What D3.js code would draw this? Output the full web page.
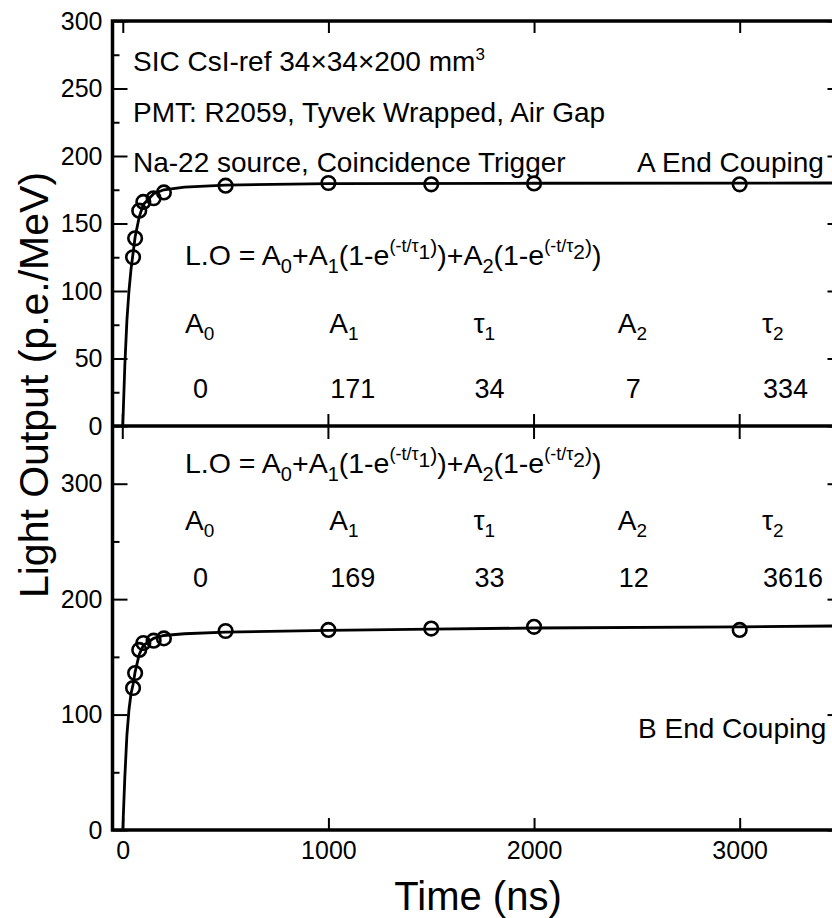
<!DOCTYPE html>
<html><head><meta charset="utf-8">
<script src="https://cdn.jsdelivr.net/npm/d3@7"></script>
<style>
body{margin:0;background:#fff}
svg{display:block}
text{font-family:"Liberation Sans",Arial,Helvetica,sans-serif;fill:#000}
</style>
</head><body>
<svg id="c" width="832" height="918"></svg>
<script>
// ---------------- data ----------------
const timeA  = [50, 60, 80, 100, 150, 200, 500, 1000, 1500, 2000, 3000];
const lightA = [125, 139, 159.5, 166, 168.7, 173, 178, 180, 179, 179.7, 179];
const timeB  = [50, 60, 80, 100, 150, 200, 500, 1000, 1500, 2000, 3000];
const lightB = [123, 136, 156, 162, 164, 166, 172.4, 173.3, 174.5, 176, 173.3];
// fitted curves
const fitTimeA  = [0, 10, 20, 30, 40, 50, 60, 80, 100, 150, 200, 300, 500, 1000, 2000, 3500];
const fitLightA = [0, 45, 78, 100, 116, 128, 140, 155, 164, 172, 175, 177, 178.5, 179.5, 179.8, 180];
const fitTimeB  = [0, 10, 20, 30, 40, 50, 60, 80, 100, 150, 200, 300, 500, 1000, 1500, 2000, 3000, 3500];
const fitLightB = [0, 46, 82, 104, 118, 126, 137, 152, 160, 166, 168.5, 170, 171.5, 173, 174, 175, 176, 176.8];
const xTicks = [0, 1000, 2000, 3000];
const xTickLabels = ["0", "1000", "2000", "3000"];
const yTicksA = [0, 50, 100, 150, 200, 250, 300];
const yMinorA = [25, 75, 125, 175, 225, 275];
const yTicksB = [0, 100, 200, 300];
const yMinorB = [50, 150, 250];
const paramNames = [["A","0"], ["A","1"], ["\u03C4","1"], ["A","2"], ["\u03C4","2"]];
const paramValuesA = ["0", "171", "34", "7", "334"];
const paramValuesB = ["0", "169", "33", "12", "3616"];
const infoLines = ["PMT: R2059, Tyvek Wrapped, Air Gap", "Na-22 source, Coincidence Trigger"];
const labelA = "A End Couping";
const labelB = "B End Couping";

// ---------------- layout ----------------
const svg = d3.select("#c");
const x = d3.scaleLinear().domain([-50, 3500]).range([112.5, 842.5]);
const yA = d3.scaleLinear().domain([0, 300]).range([426, 21]);
const yB = d3.scaleLinear().domain([0, 350]).range([830, 426]);
const X0 = x.range()[0], X1 = x.range()[1];

function rich(g, px, py, segs) {
  const t = g.append("text").attr("x", px).attr("y", py);
  let prev = 0;
  segs.forEach(([s, size, off]) => {
    t.append("tspan").attr("dy", off - prev).attr("font-size", size).text(s);
    prev = off;
  });
  return t;
}

function panel(y, ticks, minor, ts, ls, fts, fls) {
  const g = svg.append("g");
  const ax = g.append("g").attr("transform", `translate(${X0},0)`)
    .call(d3.axisLeft(y).tickValues(ticks).tickSizeInner(-15).tickSizeOuter(0).tickPadding(10));
  ax.attr("font-family", null);
  ax.selectAll("text").attr("font-size", 25);
  ax.select(".domain").remove();
  ax.selectAll("line").attr("stroke-width", 2);
  const mi = g.append("g").attr("transform", `translate(${X0},0)`)
    .call(d3.axisLeft(y).tickValues(minor).tickSizeInner(-7).tickSizeOuter(0).tickFormat(""));
  mi.select(".domain").remove();
  mi.selectAll("line").attr("stroke-width", 2);
  const ar = g.append("g").attr("transform", `translate(${X1},0)`)
    .call(d3.axisRight(y).tickValues(ticks).tickSizeInner(-15).tickSizeOuter(0).tickFormat(""));
  ar.select(".domain").remove();
  ar.selectAll("line").attr("stroke-width", 2);
  const line = d3.line().x(d => x(d[0])).y(d => y(d[1]));
  g.append("path").datum(fts.map((t, i) => [t, fls[i]]))
    .attr("d", line).attr("fill", "none").attr("stroke", "#000").attr("stroke-width", 2.8);
  g.selectAll("circle.p").data(ts.map((t, i) => [t, ls[i]])).join("circle")
    .attr("cx", d => x(d[0])).attr("cy", d => y(d[1])).attr("r", 6.8)
    .attr("fill", "none").attr("stroke", "#000").attr("stroke-width", 2.6);
  return g;
}

panel(yA, yTicksA, yMinorA, timeA, lightA, fitTimeA, fitLightA);
panel(yB, yTicksB, yMinorB, timeB, lightB, fitTimeB, fitLightB);

svg.append("rect").attr("x", X0).attr("y", yA(300)).attr("width", X1 - X0).attr("height", yB(0) - yA(300))
  .attr("fill", "none").attr("stroke", "#000").attr("stroke-width", 3.5);
svg.append("line").attr("x1", X0).attr("x2", X1).attr("y1", yA(0)).attr("y2", yA(0))
  .attr("stroke", "#000").attr("stroke-width", 3.5);

const topAx = svg.append("g").attr("transform", `translate(0,${yA(300)})`)
  .call(d3.axisTop(x).tickValues(xTicks).tickSizeInner(-12).tickSizeOuter(0).tickFormat(""));
topAx.select(".domain").remove(); topAx.selectAll("line").attr("stroke-width", 2);
svg.append("g").selectAll("line").data(xTicks).join("line")
  .attr("x1", d => x(d)).attr("x2", d => x(d)).attr("y1", yA(0) - 12).attr("y2", yA(0) + 13)
  .attr("stroke", "#000").attr("stroke-width", 2);
const botAx = svg.append("g").attr("transform", `translate(0,${yB(0)})`)
  .call(d3.axisBottom(x).tickValues(xTicks).tickSizeInner(-12).tickSizeOuter(0).tickPadding(11)
    .tickFormat((d, i) => xTickLabels[i]));
botAx.attr("font-family", null);
botAx.selectAll("text").attr("font-size", 25);
botAx.select(".domain").remove(); botAx.selectAll("line").attr("stroke-width", 2);

svg.append("text").attr("transform", "translate(48,385) rotate(-90)").attr("text-anchor", "middle")
  .attr("font-size", 41).text("Light Output (p.e./MeV)");
svg.append("text").attr("x", 478).attr("y", 910).attr("text-anchor", "middle")
  .attr("font-size", 40).text("Time (ns)");

const ann = svg.append("g");
rich(ann, 133, 71, [["SIC CsI-ref 34\u00D734\u00D7200 mm", 28, 0], ["3", 17, -11]]);
ann.append("text").attr("x", 133).attr("y", 122).attr("font-size", 28).text(infoLines[0]);
ann.append("text").attr("x", 133).attr("y", 172).attr("font-size", 28).text(infoLines[1]);
ann.append("text").attr("x", 637).attr("y", 172).attr("font-size", 28).text(labelA);
ann.append("text").attr("x", 638).attr("y", 738).attr("font-size", 28).text(labelB);

const formula = [["L.O = A", 28.5, 0], ["0", 20, 8], ["+A", 28.5, 0], ["1", 20, 8], ["(1-e", 28.5, 0],
  ["(-t/\u03C4", 18, -13], ["1", 21, -6], [")", 21, -11], [")+A", 28.5, 0], ["2", 20, 8], ["(1-e", 28.5, 0],
  ["(-t/\u03C4", 18, -13], ["2", 21, -6], [")", 21, -11], [")", 28.5, 0]];
rich(ann, 185, 265, formula);
rich(ann, 185, 473, formula);

const colX = d3.scalePoint().domain(d3.range(paramNames.length)).range([185, 762]);
function table(labY, valY, vals) {
  paramNames.forEach(([b, s], i) => {
    rich(ann, colX(i), labY, [[b, 28, 0], [s, 19, 7]]);
    ann.append("text").attr("x", colX(i) + (vals[i].length === 1 ? 8 : 1)).attr("y", valY)
      .attr("font-size", 27).text(vals[i]);
  });
}
table(333, 398, paramValuesA);
table(530, 587, paramValuesB);
</script>
</body></html>
